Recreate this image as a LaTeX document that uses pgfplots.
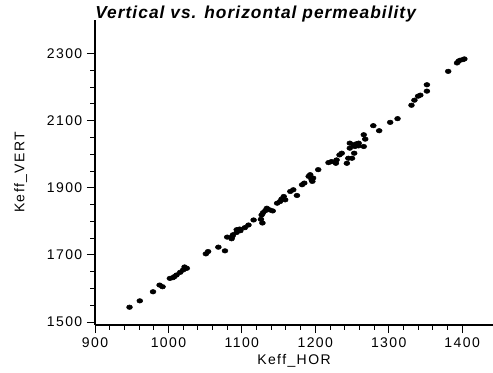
\documentclass[border=0pt]{standalone}
\usepackage{fontspec}
\setmainfont{Liberation Sans}
\usepackage{pgfplots}
\pgfplotsset{compat=1.18}
\newfontfamily\tickfont[LetterSpace=10]{Liberation Sans}
\newfontfamily\titlefont[LetterSpace=6]{Liberation Sans}
\begin{document}
\begin{tikzpicture}[x=1pt,y=1pt]
\begin{axis}[
  scale only axis,
  width=298.5pt, height=228.75pt,
  xmin=900, xmax=1442, ymin=1491, ymax=2400,
  axis lines=left,
  axis line style={-, line width=1.4pt},
  xtick={900,1000,...,1400},
  ytick={1500,1700,...,2300},
  minor x tick num=4,
  minor y tick num=3,
  tick align=outside,
  major tick length=6pt,
  minor tick length=3.5pt,
  tick style={black, line width=0.7pt},
  /pgf/number format/assume math mode=true,
  /pgf/number format/1000 sep={},
  tick label style={font=\fontsize{10.5}{12}\selectfont\tickfont},
  xlabel={Keff\_HOR},
  ylabel={Keff\_VERT},
  label style={font=\fontsize{10.5}{12}\selectfont\tickfont},
  xlabel style={yshift=2pt},
  ylabel style={yshift=8pt},
  title={\titlefont\bfseries\itshape Vertical vs. horizontal permeability},
  every axis title/.style={font=\fontsize{13}{15}\selectfont, anchor=base west, at={(0,1)}, xshift=0pt, yshift=1.5pt, inner sep=0pt},
  clip=false,
]
\addplot[only marks, mark=*, mark size=1.7pt, mark options={xscale=1.3, fill=black, draw=black}] coordinates {
(947,1544) (961,1563) (979,1590) (988,1610) (992,1605)
(1002,1630) (1008,1635) (1006,1632) (1011,1640) (1016,1648) (1020,1655) (1025,1660) (1022,1664)
(1051,1703) (1054,1710) (1068,1723) (1077,1712)
(1080,1753) (1086,1748) (1088,1760) (1093,1767) (1098,1772)
(1087,1755) (1093,1775) (1097,1777) (1104,1781) (1109,1789)
(1116,1804) (1126,1806) (1128,1795)
(1127,1819) (1129,1826) (1132,1832) (1134,1839) (1138,1834) (1142,1831)
(1148,1854) (1152,1859) (1154,1866) (1157,1874) (1159,1864)
(1166,1889) (1170,1894) (1175,1877)
(1182,1909) (1185,1914)
(1191,1934) (1193,1939) (1195,1924) (1197,1929) (1204,1954) (1196,1919)
(1218,1975) (1222,1978) (1228,1973) (1229,1983)
(1233,1998) (1236,2003) (1243,1973) (1245,1988) (1247,2018) (1253,2003) (1256,2028) (1259,2033)
(1250,1988) (1247,2033) (1252,2028) (1254,2023) (1256,2031) (1259,2025)
(1266,2058) (1268,2045) (1266,2023)
(1279,2085) (1287,2070)
(1302,2095) (1312,2106)
(1331,2146) (1335,2161) (1340,2173) (1343,2176) (1352,2207) (1352,2188)
(1381,2247)
(1393,2272) (1395,2277) (1397,2280) (1401,2282) (1403,2284)
};
\end{axis}
\pgfresetboundingbox
\path[use as bounding box] ([xshift=-71.25pt,yshift=-35.25pt]current axis.south west) rectangle ([yshift=15pt]current axis.north east);
\end{tikzpicture}
\end{document}
